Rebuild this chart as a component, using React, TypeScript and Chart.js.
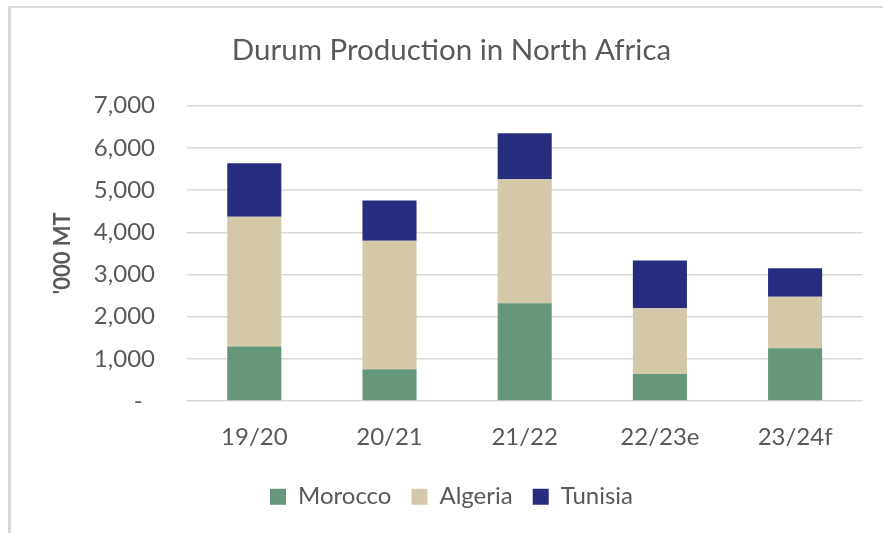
import React, { useEffect, useRef } from "react";
import { Chart, registerables } from "chart.js";

Chart.register(...registerables);

const categories = ["19/20", "20/21", "21/22", "22/23e", "23/24f"];
const morocco = [1290, 750, 2315, 640, 1250];
const algeria = [3080, 3050, 2940, 1560, 1220];
const tunisia = [1265, 950, 1090, 1130, 675];
const yTicks = [0, 1000, 2000, 3000, 4000, 5000, 6000, 7000];

const TEXT = "#595959";
const GRID = "#d9d9d9";
const FONT = "Lato, 'Open Sans', sans-serif";

export default function App() {
  const ref = useRef<HTMLCanvasElement | null>(null);

  useEffect(() => {
    if (!ref.current) return;
    const chart = new Chart(ref.current, {
      type: "bar",
      data: {
        labels: categories,
        datasets: [
          { label: "Morocco", data: morocco, backgroundColor: "#66977a" },
          { label: "Algeria", data: algeria, backgroundColor: "#d3c9a9" },
          { label: "Tunisia", data: tunisia, backgroundColor: "#282c7f" },
        ],
      },
      options: {
        responsive: false,
        animation: false,
        layout: { padding: { left: 40.3, right: 20.3, top: 0, bottom: 14.3 } },
        datasets: { bar: { barPercentage: 0.4, categoryPercentage: 1 } },
        plugins: {
          title: {
            display: true,
            text: "Durum Production in North Africa",
            color: TEXT,
            font: { family: FONT, size: 29.5, weight: "normal" },
            padding: { top: 32.3, bottom: 38 },
          },
          legend: {
            position: "bottom",
            labels: {
              color: TEXT,
              font: { family: FONT, size: 24 },
              boxWidth: 16,
              boxHeight: 16,
              padding: 20,
            },
          },
          tooltip: { enabled: false },
        },
        scales: {
          x: {
            stacked: true,
            grid: { display: false, drawTicks: false },
            border: { display: false },
            ticks: {
              color: TEXT,
              font: { family: FONT, size: 24 },
              padding: 21.6,
            },
            afterFit: (scale: any) => {
              scale.height = 63.7;
            },
          },
          y: {
            stacked: true,
            min: 0,
            max: 7000,
            afterBuildTicks: (scale: any) => {
              scale.ticks = yTicks.map((v) => ({ value: v }));
            },
            grid: { color: GRID, lineWidth: 1.5, drawTicks: false },
            border: { display: false },
            ticks: {
              color: TEXT,
              font: { family: FONT, size: 24 },
              padding: 31.7,
              callback: (v: any) =>
                Number(v) === 0 ? "-  " : Number(v).toLocaleString("en-US"),
            },
            title: {
              display: true,
              text: "'000 MT",
              color: TEXT,
              font: { family: FONT, size: 22, weight: "bold" },
              padding: { top: 9, bottom: 0 },
            },
            afterFit: (scale: any) => {
              scale.width = 146.4;
            },
          },
        },
      },
    });
    return () => chart.destroy();
  }, []);

  return (
    <div
      style={{
        position: "absolute",
        left: 0,
        top: 0,
        width: 883,
        height: 533,
        background: "#fff",
        overflow: "hidden",
      }}
    >
      <div
        style={{
          position: "absolute",
          left: 8,
          top: 6,
          right: 0,
          bottom: 0,
          borderLeft: "3px solid #d9d9d9",
          borderTop: "2px solid #d9d9d9",
        }}
      />
      <canvas
        ref={ref}
        width={883}
        height={533}
        style={{ position: "absolute", left: 0, top: 0, width: 883, height: 533 }}
      />
    </div>
  );
}
